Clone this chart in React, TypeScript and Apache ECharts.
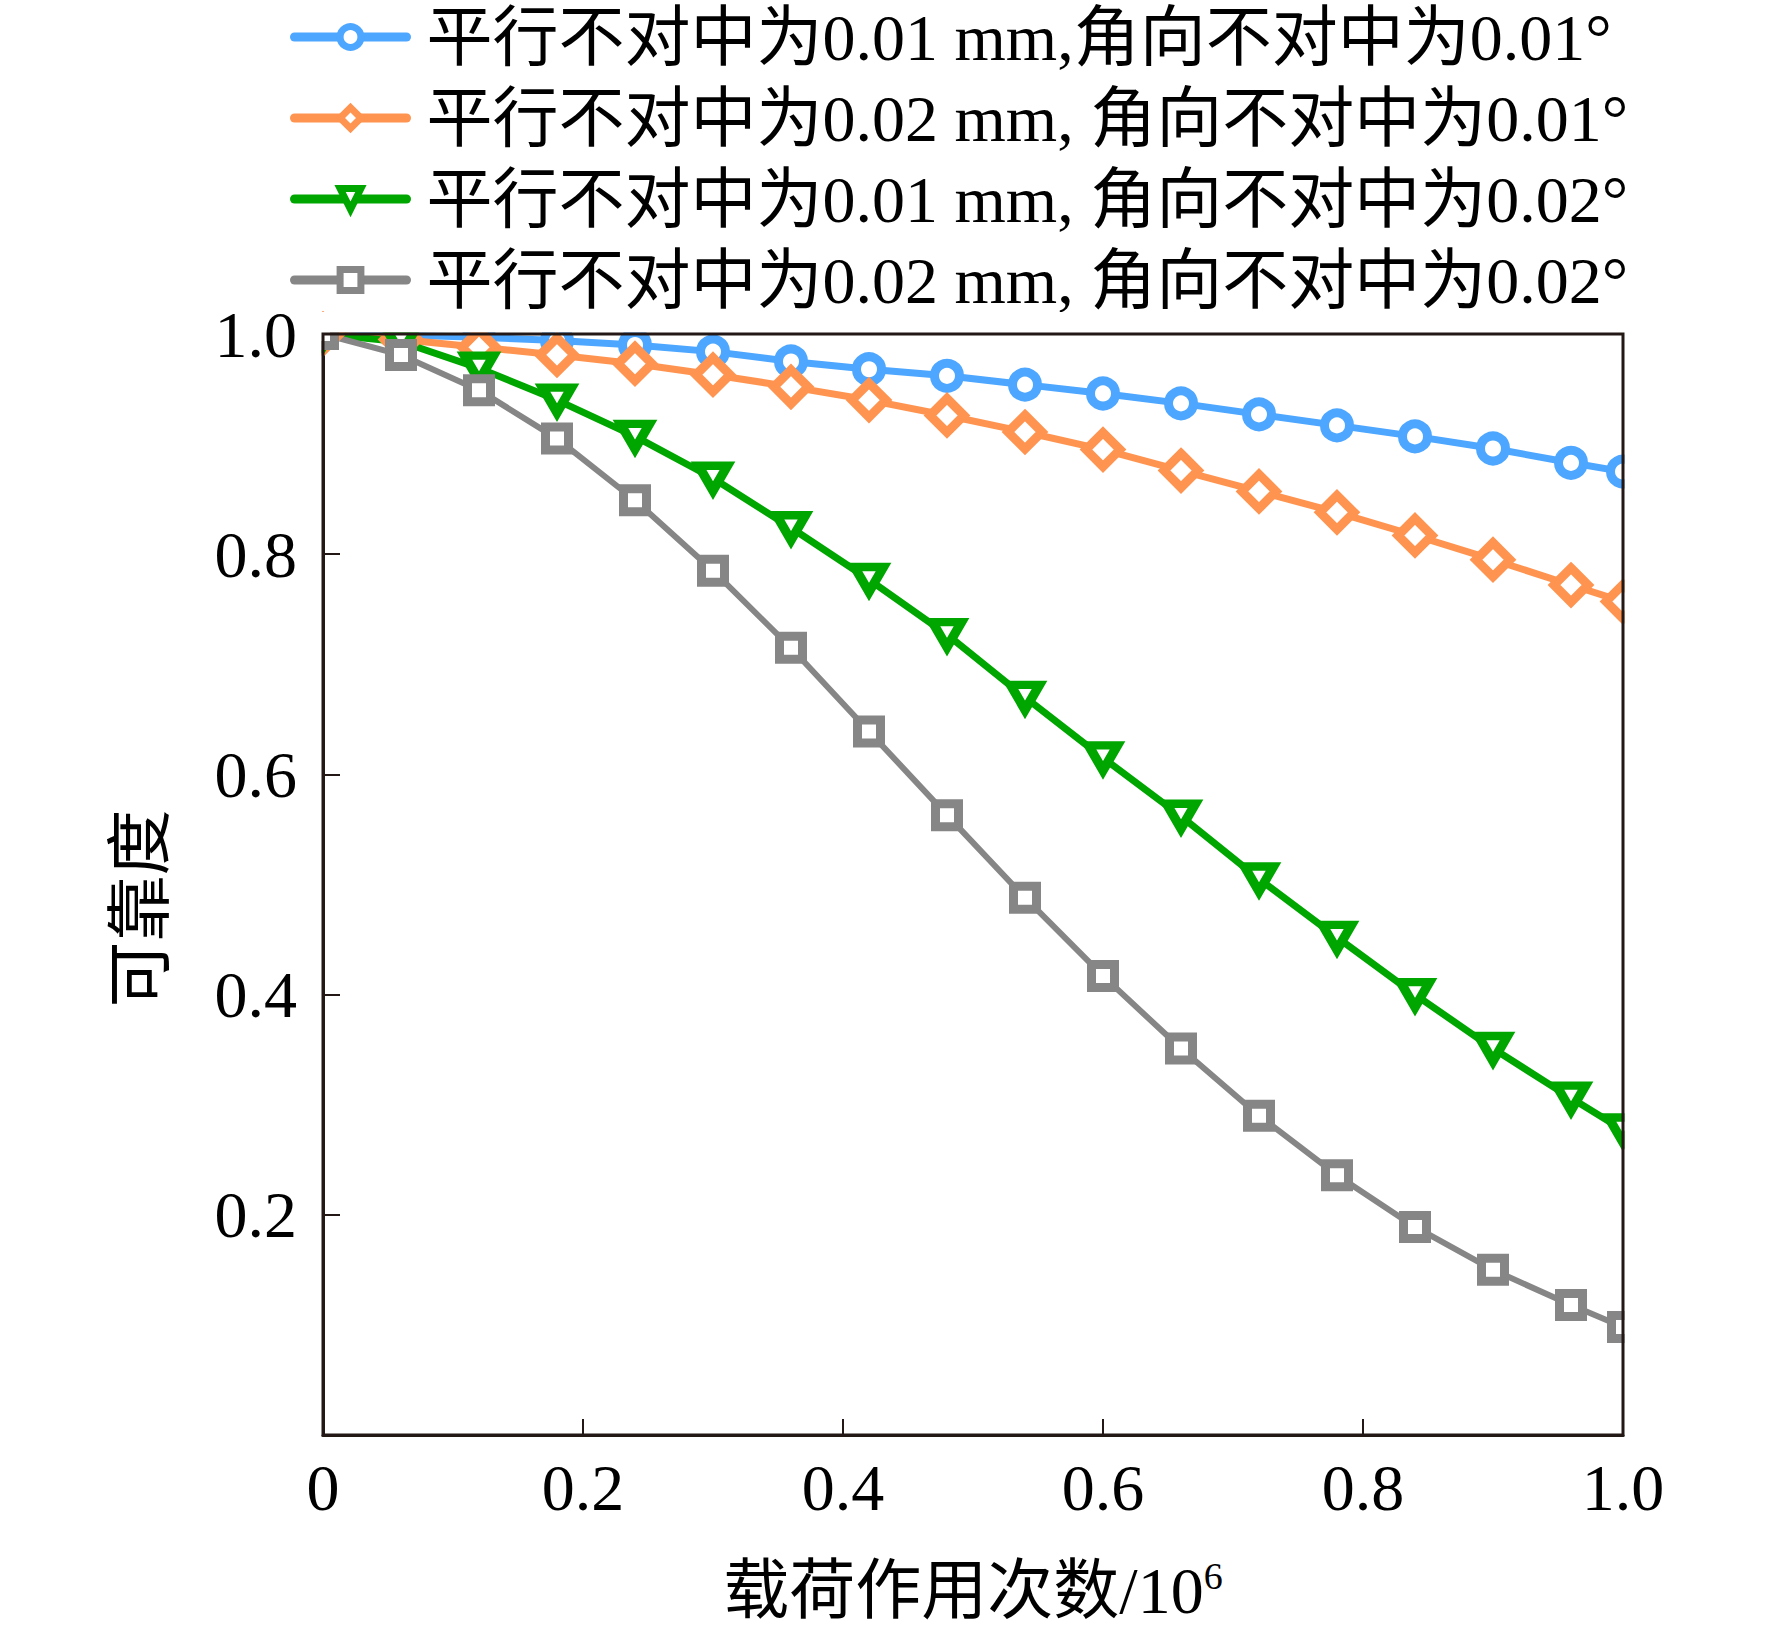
import React, { useEffect, useRef } from 'react';
import * as echarts from 'echarts';

// load cycles (10^6)
const X_VALUES = [0, 0.06, 0.12, 0.18, 0.24, 0.3, 0.36, 0.42, 0.48, 0.54, 0.6, 0.66, 0.72, 0.78, 0.84, 0.9, 0.96, 1.0];

// reliability for each case
const BLUE = [1.0, 0.999, 0.997, 0.994, 0.99, 0.984, 0.975, 0.968, 0.962, 0.954, 0.946, 0.937, 0.927, 0.917, 0.907, 0.896, 0.883, 0.875];
const ORANGE = [1.0, 0.995, 0.988, 0.981, 0.973, 0.963, 0.952, 0.94, 0.926, 0.911, 0.895, 0.876, 0.857, 0.838, 0.817, 0.795, 0.772, 0.757];
const GREEN = [1.0, 0.993, 0.969, 0.94, 0.907, 0.869, 0.824, 0.777, 0.727, 0.67, 0.615, 0.562, 0.505, 0.452, 0.4, 0.351, 0.306, 0.277];
const GRAY = [1.0, 0.981, 0.949, 0.905, 0.849, 0.785, 0.715, 0.639, 0.563, 0.488, 0.417, 0.351, 0.29, 0.236, 0.189, 0.15, 0.118, 0.098];

const SERIES_NAMES = [
  '平行不对中为0.01 mm,角向不对中为0.01°',
  '平行不对中为0.02 mm, 角向不对中为0.01°',
  '平行不对中为0.01 mm, 角向不对中为0.02°',
  '平行不对中为0.02 mm, 角向不对中为0.02°',
];

const FONT = "'Liberation Serif', 'Times New Roman', 'Noto Sans CJK SC', serif";
const AXIS_COLOR = '#231815';

// plot area in pixels
const GRID_LEFT = 323;
const GRID_TOP = 334;
const GRID_W = 1300;
const GRID_H = 1101;

const App: React.FC = () => {
  const chartRef = useRef<HTMLDivElement>(null);

  useEffect(() => {
    document.body.style.margin = '0';
    if (!chartRef.current) return;
    const chart = echarts.init(chartRef.current, undefined, { renderer: 'svg' });

    const pair = (ys: number[]) => X_VALUES.map((x, i) => [x, ys[i]]);

    const mkSeries = (
      name: string,
      ys: number[],
      color: string,
      symbol: string,
      symbolSize: number | number[],
      borderWidth: number,
      lineWidth: number
    ) => ({
      name,
      type: 'line',
      data: pair(ys),
      symbol,
      symbolSize,
      showAllSymbol: true,
      clip: false,
      lineStyle: { color, width: lineWidth },
      itemStyle: { color: '#fff', borderColor: color, borderWidth },
      z: 3,
    });

    const option: any = {
      animation: false,
      backgroundColor: '#fff',
      legend: {
        orient: 'vertical',
        left: 290,
        top: 4,
        padding: 0,
        itemGap: 15,
        itemWidth: 112,
        itemHeight: 26,
        data: SERIES_NAMES,
        lineStyle: { width: 9, cap: 'round' },
        itemStyle: { borderWidth: 7 },
        textStyle: {
          fontFamily: FONT,
          fontSize: 66,
          lineHeight: 66,
          color: '#000',
          padding: [0, 0, 0, 15],
        },
      },
      grid: {
        left: GRID_LEFT,
        top: GRID_TOP,
        width: GRID_W,
        height: GRID_H,
        containLabel: false,
      },
      xAxis: {
        type: 'value',
        min: 0,
        max: 1,
        interval: 0.2,
        name: '载荷作用次数/10{sup|6}',
        nameLocation: 'middle',
        nameGap: 122,
        nameTextStyle: {
          fontFamily: FONT,
          fontSize: 66,
          lineHeight: 66,
          color: '#000',
          rich: {
            sup: { fontFamily: FONT, fontSize: 38, lineHeight: 38, verticalAlign: 'top', color: '#000' },
          },
        },
        axisLine: { lineStyle: { color: AXIS_COLOR, width: 3 } },
        axisTick: { inside: true, length: 16, lineStyle: { color: AXIS_COLOR, width: 2 } },
        splitLine: { show: false },
        axisLabel: {
          margin: 19,
          fontFamily: FONT,
          fontSize: 66,
          lineHeight: 66,
          color: '#000',
          formatter: (v: number) => (v === 0 ? '0' : v.toFixed(1)),
        },
      },
      yAxis: {
        type: 'value',
        min: 0,
        max: 1,
        interval: 0.2,
        name: '可靠度',
        nameLocation: 'middle',
        nameGap: 150,
        nameTextStyle: {
          fontFamily: FONT,
          fontSize: 66,
          lineHeight: 66,
          color: '#000',
          padding: [0, 48, 0, 0],
        },
        axisLine: { lineStyle: { color: AXIS_COLOR, width: 3 } },
        axisTick: { inside: true, length: 17, lineStyle: { color: AXIS_COLOR, width: 2 } },
        splitLine: { show: false },
        axisLabel: {
          margin: 26,
          fontFamily: FONT,
          fontSize: 66,
          lineHeight: 66,
          color: '#000',
          formatter: (v: number) => (v === 0 ? '' : v.toFixed(1)),
        },
      },
      graphic: [
        // white masks so that markers on the edges look clipped by the frame
        {
          type: 'rect',
          z: 25,
          silent: true,
          shape: { x: GRID_LEFT + GRID_W + 1.5, y: GRID_TOP - 22, width: 60, height: GRID_H + 20 },
          style: { fill: '#fff' },
        },
        {
          type: 'rect',
          z: 25,
          silent: true,
          shape: { x: GRID_LEFT - 24, y: GRID_TOP - 22, width: 22.5, height: 80 },
          style: { fill: '#fff' },
        },
        {
          type: 'rect',
          z: 25,
          silent: true,
          shape: { x: GRID_LEFT - 24, y: GRID_TOP - 22, width: GRID_W + 30, height: 20.5 },
          style: { fill: '#fff' },
        },
        {
          type: 'rect',
          z: 30,
          silent: true,
          shape: { x: GRID_LEFT, y: GRID_TOP, width: GRID_W, height: GRID_H },
          style: { fill: 'none', stroke: AXIS_COLOR, lineWidth: 3 },
        },
      ],
      series: [
        mkSeries(SERIES_NAMES[0], BLUE, '#4da6ff', 'circle', 25, 9, 7),
        mkSeries(SERIES_NAMES[1], ORANGE, '#ff9450', 'diamond', 34, 9, 7),
        mkSeries(SERIES_NAMES[2], GREEN, '#00a600', 'path://M0,0L20,0L10,17.3Z', [29, 25], 9, 7),
        mkSeries(SERIES_NAMES[3], GRAY, '#868686', 'rect', 23, 9, 6),
      ],
    };

    chart.setOption(option);
    return () => {
      chart.dispose();
    };
  }, []);

  return <div ref={chartRef} style={{ width: 1772, height: 1637 }} />;
};

export default App;
